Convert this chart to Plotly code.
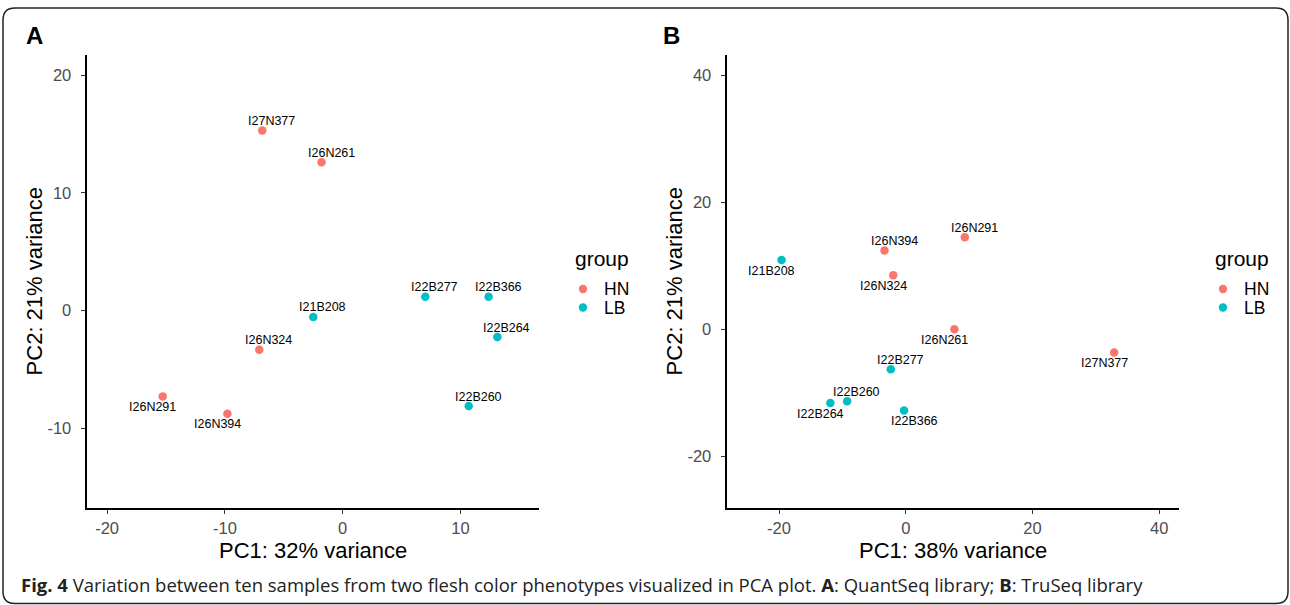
import plotly.graph_objects as go

# ---------------- data ----------------
samples_A = ["I27N377", "I26N261", "I22B277", "I22B366", "I21B208",
             "I26N324", "I22B264", "I26N291", "I26N394", "I22B260"]
group_A = ["HN", "HN", "LB", "LB", "LB", "HN", "LB", "HN", "HN", "LB"]
pc1_A = [-6.83, -1.80, 7.01, 12.39, -2.50, -7.08, 13.13, -15.28, -9.79, 10.70]
pc2_A = [15.30, 12.59, 1.18, 1.18, -0.54, -3.32, -2.24, -7.28, -8.75, -8.10]

samples_B = ["I21B208", "I26N394", "I26N324", "I26N291", "I26N261",
             "I27N377", "I22B277", "I22B260", "I22B264", "I22B366"]
group_B = ["LB", "HN", "HN", "HN", "HN", "HN", "LB", "LB", "LB", "LB"]
pc1_B = [-19.6, -3.35, -1.97, 9.32, 7.68, 32.9, -2.36, -9.25, -11.9, -0.26]
pc2_B = [10.9, 12.4, 8.5, 14.5, 0.0, -3.65, -6.3, -11.35, -11.6, -12.8]

groups = ["HN", "LB"]
x_title_A = "PC1: 32% variance"
y_title_A = "PC2: 21% variance"
x_title_B = "PC1: 38% variance"
y_title_B = "PC2: 21% variance"
ticks_A_x = [-20, -10, 0, 10]
ticks_A_y = [-10, 0, 10, 20]
ticks_B_x = [-20, 0, 20, 40]
ticks_B_y = [-20, 0, 20, 40]

# label placement (ggrepel-like): ar = above-right, bl = below-left, br = below-right
side_A = ["ar", "ar", "ar", "ar", "ar", "ar", "ar", "bl", "bl", "ar"]
side_B = ["bl", "ar", "bl", "ar", "bl", "bl", "ar", "ar", "bl", "br"]

# ---------------- style ----------------
W, H = 1290, 605
colors = {"HN": "#F8766D", "LB": "#00BFC4"}
FONT = "Liberation Sans, Arial, sans-serif"
offsets = {"ar": (9.5, 9.5), "bl": (-10, -10.7), "br": (10, -10.5)}


def px(x):
    return x / W


def py(y):
    return 1 - y / H


fig = go.Figure()

panels = [
    dict(xa="x", ya="y", samples=samples_A, grp=group_A, xs=pc1_A, ys=pc2_A, side=side_A,
         dom=(87.1, 539.4), xr=[-21.7, 16.7], yr=[-16.73, 21.7],
         tx=ticks_A_x, ty=ticks_A_y, xt=x_title_A, yt=y_title_A, off=0, letter="A"),
    dict(xa="x2", ya="y2", samples=samples_B, grp=group_B, xs=pc1_B, ys=pc2_B, side=side_B,
         dom=(727.1, 1179.4), xr=[-28.2, 43.2], yr=[-28.1, 43.2],
         tx=ticks_B_x, ty=ticks_B_y, xt=x_title_B, yt=y_title_B, off=640, letter="B"),
]

annotations = []
shapes = []
ydom = [py(507.7), py(55)]

for i, p in enumerate(panels):
    for g in groups:
        idx = [k for k, gg in enumerate(p["grp"]) if gg == g]
        fig.add_trace(go.Scatter(
            x=[p["xs"][k] for k in idx], y=[p["ys"][k] for k in idx],
            mode="markers", name=g, showlegend=False,
            text=[p["samples"][k] for k in idx],
            marker=dict(color=colors[g], size=8.5, line=dict(width=0)),
            xaxis=p["xa"], yaxis=p["ya"],
            hovertemplate="%{text}<br>PC1 %{x}<br>PC2 %{y}<extra>" + g + "</extra>",
        ))
    # point labels
    for k, name in enumerate(p["samples"]):
        dx, dy = offsets[p["side"][k]]
        annotations.append(dict(
            x=p["xs"][k], y=p["ys"][k], xref=p["xa"], yref=p["ya"],
            text=name, showarrow=False, xshift=dx, yshift=dy,
            xanchor="center", yanchor="middle",
            font=dict(family=FONT, size=12.5, color="#000000"),
        ))
    axis_common = dict(
        showgrid=False, zeroline=False, showline=True, linecolor="#000000", linewidth=2,
        ticks="outside", ticklen=4.5, tickwidth=1.3, tickcolor="#333333",
        tickfont=dict(family=FONT, size=16.5, color="#4D4D4D"),
    )
    xkey = "xaxis" if i == 0 else "xaxis2"
    ykey = "yaxis" if i == 0 else "yaxis2"
    fig.update_layout(**{
        xkey: dict(axis_common, domain=[px(p["dom"][0]), px(p["dom"][1])], range=p["xr"],
                   tickvals=p["tx"], ticktext=[str(v) for v in p["tx"]],
                   anchor=p["ya"], ticklabelstandoff=0),
        ykey: dict(axis_common, domain=ydom, range=p["yr"],
                   tickvals=p["ty"], ticktext=[str(v) for v in p["ty"]],
                   anchor=p["xa"], ticklabelstandoff=6),
    })
    off = p["off"]
    # axis titles
    annotations.append(dict(
        x=px((p["dom"][0] + p["dom"][1]) / 2), y=py(550), xref="paper", yref="paper",
        text=p["xt"], showarrow=False, xanchor="center", yanchor="middle",
        font=dict(family=FONT, size=22, color="#000000")))
    annotations.append(dict(
        x=px(34 + off), y=py(281.4), xref="paper", yref="paper",
        text=p["yt"], showarrow=False, xanchor="center", yanchor="middle", textangle=-90,
        font=dict(family=FONT, size=22, color="#000000")))
    # panel letter
    annotations.append(dict(
        x=px(34 + off - (3 if i else 0)), y=py(36), xref="paper", yref="paper",
        text="<b>" + p["letter"] + "</b>", showarrow=False, xanchor="center", yanchor="middle",
        font=dict(family=FONT, size=24, color="#000000")))
    # legend (manual)
    annotations.append(dict(
        x=px(573 + off), y=py(259), xref="paper", yref="paper", text="group",
        showarrow=False, xanchor="left", yanchor="middle",
        font=dict(family=FONT, size=21, color="#000000")))
    for j, g in enumerate(groups):
        yy = 289 + j * 18.5
        annotations.append(dict(
            x=px(602 + off), y=py(yy), xref="paper", yref="paper", text=g,
            showarrow=False, xanchor="left", yanchor="middle",
            font=dict(family=FONT, size=17.5, color="#000000")))
        shapes.append(dict(
            type="circle", xref="paper", yref="paper",
            xsizemode="pixel", ysizemode="pixel",
            xanchor=px(583 + off), yanchor=py(yy),
            x0=-4.2, x1=4.2, y0=-4.2, y1=4.2,
            fillcolor=colors[g], line=dict(width=0)))

# caption
annotations.append(dict(
    x=px(19), y=py(584), xref="paper", yref="paper", showarrow=False,
    xanchor="left", yanchor="middle",
    text="<b>Fig. 4</b> Variation between ten samples from two flesh color phenotypes "
         "visualized in PCA plot. <b>A</b>: QuantSeq library; <b>B</b>: TruSeq library",
    font=dict(family="Open Sans, sans-serif", size=18.5, color="#222222")))

# rounded border
x0, x1, y0, y1, r = 3, 1288, 8, 603.5, 12
path = (f"M {px(x0 + r)},{py(y0)} L {px(x1 - r)},{py(y0)} "
        f"Q {px(x1)},{py(y0)} {px(x1)},{py(y0 + r)} "
        f"L {px(x1)},{py(y1 - r)} Q {px(x1)},{py(y1)} {px(x1 - r)},{py(y1)} "
        f"L {px(x0 + r)},{py(y1)} Q {px(x0)},{py(y1)} {px(x0)},{py(y1 - r)} "
        f"L {px(x0)},{py(y0 + r)} Q {px(x0)},{py(y0)} {px(x0 + r)},{py(y0)} Z")
shapes.append(dict(type="path", xref="paper", yref="paper", path=path,
                   line=dict(color="#222222", width=1.5), layer="above"))

fig.update_layout(
    width=W, height=H, margin=dict(l=0, r=0, t=0, b=0),
    paper_bgcolor="white", plot_bgcolor="white",
    showlegend=False, annotations=annotations, shapes=shapes,
    font=dict(family=FONT),
)

fig.write_html("out.html", config={"displayModeBar": False})
